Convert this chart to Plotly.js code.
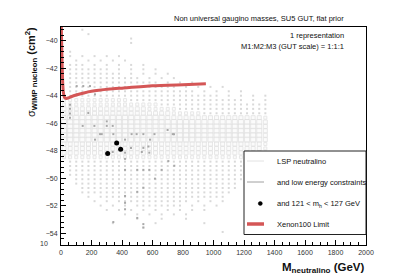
<!DOCTYPE html>
<html>
<head>
<meta charset="utf-8">
<script src="https://cdn.plot.ly/plotly-3.0.1.min.js"></script>
<style>html,body{margin:0;padding:0;background:#fff;}#chart{width:407px;height:276px;}</style>
</head>
<body>
<div id="chart"></div>
<script>
// ---- data ----
const massBins = [20,60,100,140,180,220,260,300,340,380,420,460,500,540,580,620,660,700,740,780,820,860,900,940,980,1020,1060,1100,1140,1180,1220,1260,1300,1340];
const sigmaBins = [-39.20,-39.52,-39.84,-40.16,-40.48,-40.80,-41.12,-41.44,-41.76,-42.08,-42.40,-42.72,-43.04,-43.36,-43.68,-44.00,-44.32,-44.64,-44.96,-45.28,-45.60,-45.92,-46.24,-46.56,-46.88,-47.20,-47.52,-47.84,-48.16,-48.48,-48.80,-49.12,-49.44,-49.76,-50.08,-50.40,-50.72,-51.04,-51.36,-51.68,-52.00,-52.32,-52.64,-52.96,-53.28,-53.60,-53.92,-54.24];
// occupancy level of each bin (0 empty, 1 dot, 2..4 box size), one string per sigma bin
const lspLevels = [
"0001000000000000000000000000000000",
"0000100000000000000000000000000000",
"0000000000010000000000000000000000",
"0000000000010000000000000000000000",
"0000000000000000000000000000000000",
"0100000000000000000000000000000000",
"0101010101000000000000000000000000",
"0010101010100000000000000000000000",
"0111010101010100000000000000000000",
"0111111101010101000000000000000000",
"0111111111010101010000000000000000",
"0111111111111010101000000000000000",
"0111111111111111010101000000000000",
"0111111111111111111010101010000000",
"0111111111111111111111010101010000",
"1111111111111111111111111101010101",
"2222222222211111111111111111110101",
"2222222222222222111111111111111111",
"3333333333333322222111111111111111",
"3333333333333333332222211111111111",
"3444444444444444433333333333333332",
"4444444444444444444444444444444443",
"4444444444444444444444444444444443",
"4444444444444444444444444444444443",
"4444444444444444444444444444444443",
"4444444444444444444444444444444443",
"3333333333333333333333333333333332",
"3333333333333333333333333333333332",
"3333333333333333333333333333333332",
"2222222222222222222222222222222221",
"0111111111111111111111111111111111",
"0111111111111111111111111111111110",
"0111111111111111111111111111111100",
"0111111111111111111111111111111000",
"0011111111111111111111111111110000",
"0011111111111111111111111111100000",
"0001111111111111111111111111100000",
"0001111111111111111111111111000000",
"0000101111111111111111111110000000",
"0000010101111111111110101010000000",
"0000001010101111111101010100000000",
"0000000101010101010101010000000000",
"0000000000101010101010000000000000",
"0000000000001000100010000000000000",
"0000000010000001000000010000000000",
"0000000000000100000000000000000000",
"0000000000000000000000000010000000",
"0000000000000000000000000000000000"
];
const lowEnergyMass = [103,146,190,103,223,59,59,59,59,179,142,219,300,339,300,256,343,496,420,573,339,530,223,267,463,540,584,613,733,420,459,540,579,420,704,743,420,500,540,579,660,616,540,500,420,420,420,500,540,540,343,699,741];
const lowEnergySigma = [-43.3,-43.3,-43.3,-43.9,-43.9,-44.66,-44.95,-45.3,-45.6,-45.26,-46.2,-46.2,-46.2,-46.2,-45.87,-46.8,-46.8,-46.8,-47.2,-47.7,-48.1,-48.1,-47.2,-46.8,-46.8,-46.8,-47.2,-46.8,-46.8,-48.15,-47.8,-47.8,-48.15,-48.6,-48.76,-49.1,-49.4,-49.4,-49.4,-49.4,-49.4,-50.04,-50.7,-51.0,-51.3,-51.8,-52.27,-52.9,-53.35,-53.6,-53.2,-46.5,-46.8];
const higgsMass = [306,365,391];
const higgsSigma = [-48.2,-47.45,-47.9];
const xenonMass = [2,5,8,11,15,22,35,60,100,150,200,320,400,600,800,950];
const xenonSigma = [-39.0,-40.5,-42.0,-43.0,-43.7,-44.1,-44.2,-44.1,-43.95,-43.8,-43.68,-43.52,-43.45,-43.28,-43.2,-43.14];
const xTickVals = [0,200,400,600,800,1000,1200,1400,1600,1800,2000];
const yTickVals = [-40,-42,-44,-46,-48,-50,-52,-54];
const legendLabels = ["LSP neutralino","and low energy constraints","and 121 &lt; m<sub>h</sub> &lt; 127 GeV","Xenon100 Limit"];

// ---- build traces from data ----
const dotX = [], dotY = [], boxX = [], boxY = [], boxS = [];
const boxSize = {2: 3, 3: 4, 4: 5};
lspLevels.forEach((row, k) => {
  for (let i = 0; i < row.length; i++) {
    const lv = +row[i];
    if (lv === 1) { dotX.push(massBins[i]); dotY.push(sigmaBins[k]); }
    else if (lv > 1) { boxX.push(massBins[i]); boxY.push(sigmaBins[k]); boxS.push(boxSize[lv]); }
  }
});

const FONT = "Liberation Sans, Arial, Helvetica, sans-serif";
const traces = [
  {x: dotX, y: dotY, type: 'scatter', mode: 'markers', showlegend: false, hoverinfo: 'skip',
   marker: {symbol: 'square', size: 2, color: '#d9d9d9', line: {width: 0}}},
  {x: boxX, y: boxY, type: 'scatter', mode: 'markers', showlegend: false, hoverinfo: 'skip',
   marker: {symbol: 'square', size: boxS, color: '#fafafa', line: {color: '#dedede', width: 1}}},
  {x: lowEnergyMass, y: lowEnergySigma, type: 'scatter', mode: 'markers', showlegend: false, hoverinfo: 'skip',
   marker: {symbol: 'square', size: 2, color: '#a8a8a8', line: {width: 0}}},
  {x: xenonMass, y: xenonSigma, type: 'scatter', mode: 'lines', showlegend: false, hoverinfo: 'skip',
   line: {color: 'rgb(212,86,86)', width: 3, shape: 'spline', smoothing: 0.6}},
  {x: higgsMass, y: higgsSigma, type: 'scatter', mode: 'markers', showlegend: false, hoverinfo: 'skip',
   marker: {symbol: 'circle', size: 5, color: '#000'}}
];

// ---- layout (pixel helpers for text placement) ----
const L = 61, R = 366, T = 27, B = 245;
const px = v => (v - L) / (R - L);
const py = v => (B - v) / (B - T);
const txt = (text, x, y, xa, size, extra) => Object.assign({
  text: text, x: px(x), y: py(y), xref: 'paper', yref: 'paper', xanchor: xa, yanchor: 'middle',
  showarrow: false, font: {family: FONT, size: size, color: '#111'}
}, extra || {});

const legendRows = [161, 182, 203.5, 224];
const annotations = [
  txt("Non universal gaugino masses, SU5 GUT, flat prior", 346, 18.5, 'right', 7.5),
  txt("1 representation", 346, 35, 'right', 7.5),
  txt("M1:M2:M3 (GUT scale) = 1:1:1", 346, 46, 'right', 7.5),
  txt("10", 44, 243.5, 'center', 7, {font: {family: FONT, size: 7, color: '#333'}}),
  txt("σ<sub><b>WIMP nucleon</b></sub> <b>(cm<sup>2</sup>)</b>", 31, 72, 'center', 11, {textangle: -90}),
  txt("<b>M<sub>neutralino</sub> (GeV)</b>", 367, 268, 'right', 11.5)
];
legendLabels.forEach((lab, i) => annotations.push(txt(lab, 275, legendRows[i], 'left', 7.5)));

const shapes = [
  {type: 'rect', xref: 'paper', yref: 'paper', x0: px(244), x1: px(366), y0: py(234.5), y1: py(151),
   line: {color: '#222', width: 1}, fillcolor: '#fff', layer: 'above'},
  {type: 'line', xref: 'paper', yref: 'paper', x0: px(247), x1: px(264), y0: py(legendRows[0]), y1: py(legendRows[0]),
   line: {color: '#e2e2e2', width: 1}},
  {type: 'line', xref: 'paper', yref: 'paper', x0: px(247), x1: px(264), y0: py(legendRows[1]), y1: py(legendRows[1]),
   line: {color: '#a0a0a0', width: 1}},
  {type: 'circle', xref: 'paper', yref: 'paper', x0: px(258.3), x1: px(262.3), y0: py(legendRows[2] + 2), y1: py(legendRows[2] - 2),
   line: {color: '#000', width: 0.5}, fillcolor: '#000'},
  {type: 'line', xref: 'paper', yref: 'paper', x0: px(247), x1: px(264), y0: py(legendRows[3]), y1: py(legendRows[3]),
   line: {color: 'rgb(212,86,86)', width: 3.5}}
];

const layout = {
  width: 407, height: 276,
  margin: {l: L, r: 407 - R, t: T, b: 276 - B, pad: 0},
  paper_bgcolor: '#fff', plot_bgcolor: '#fff',
  showlegend: false,
  font: {family: FONT, size: 7, color: '#333'},
  xaxis: {range: [0, 2000], tickvals: xTickVals, ticks: 'inside', ticklen: 5, tickwidth: 1, tickcolor: '#000',
          showline: true, linecolor: '#000', linewidth: 1, mirror: true, showgrid: false, zeroline: false,
          tickfont: {family: FONT, size: 7, color: '#333'}, ticklabelstandoff: 1,
          minor: {dtick: 50, tick0: 0, ticks: 'inside', ticklen: 3, tickcolor: '#000', showgrid: false},
          fixedrange: true},
  yaxis: {range: [-54.87, -39.0], tickvals: yTickVals, ticks: 'inside', ticklen: 5, tickwidth: 1, tickcolor: '#000',
          showline: true, linecolor: '#000', linewidth: 1, mirror: true, showgrid: false, zeroline: false,
          tickfont: {family: FONT, size: 7, color: '#333'}, ticklabelstandoff: 1,
          minor: {dtick: 0.4, tick0: -40, ticks: 'inside', ticklen: 3, tickcolor: '#000', showgrid: false},
          fixedrange: true},
  annotations: annotations,
  shapes: shapes
};

Plotly.newPlot('chart', traces, layout, {staticPlot: true, displayModeBar: false});
</script>
</body>
</html>
